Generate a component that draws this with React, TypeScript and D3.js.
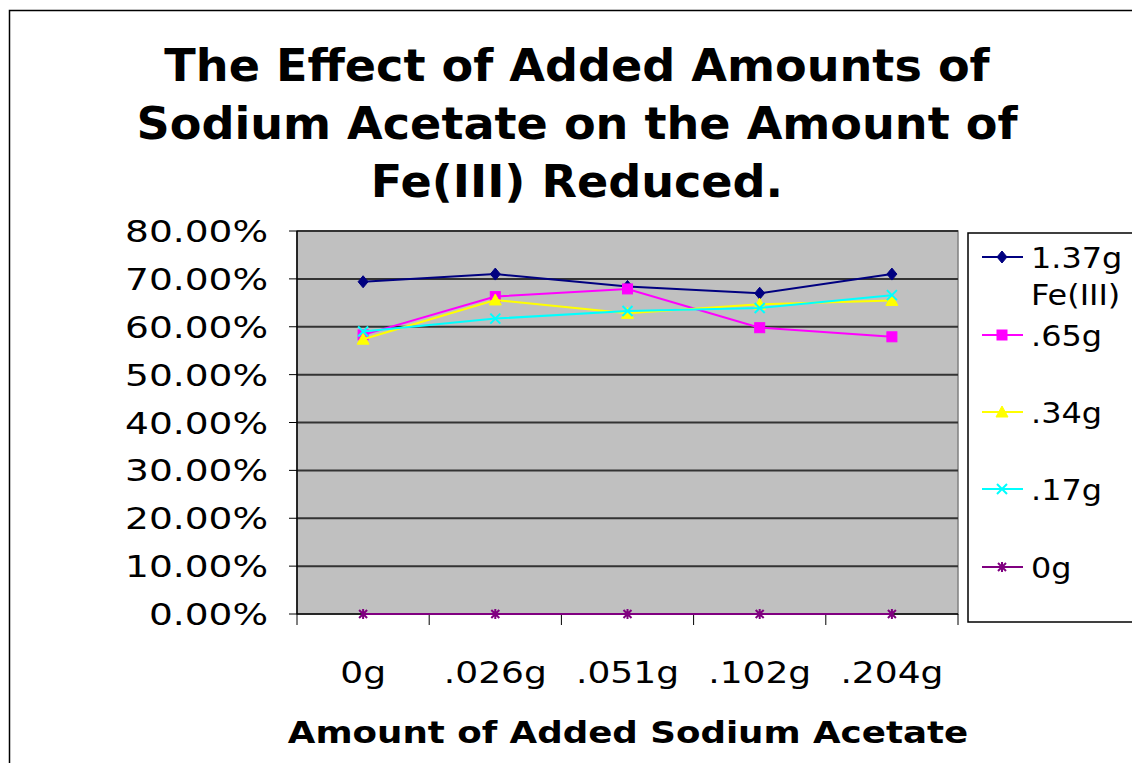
import React from "react";
import * as d3 from "d3";

const categories = ["0g", ".026g", ".051g", ".102g", ".204g"];
const seriesNames = ["1.37g Fe(III)", ".65g", ".34g", ".17g", "0g"];
const s137 = [0.694, 0.710, 0.684, 0.670, 0.710];
const s065 = [0.583, 0.663, 0.679, 0.598, 0.579];
const s034 = [0.574, 0.656, 0.628, 0.647, 0.655];
const s017 = [0.590, 0.617, 0.633, 0.639, 0.666];
const s000 = [0, 0, 0, 0, 0];
const yTicks = [0, 0.1, 0.2, 0.3, 0.4, 0.5, 0.6, 0.7, 0.8];
const titleLines = ["The Effect of Added Amounts of", "Sodium Acetate on the Amount of", "Fe(III) Reduced."];
const xTitle = "Amount of Added Sodium Acetate";

const colors = ["#000080", "#FF00FF", "#FFFF00", "#00FFFF", "#800080"];
const markers = ["diamond", "square", "triangle", "x", "star"];
const seriesData = [s137, s065, s034, s017, s000];

const FONT = "'DejaVu Sans', Verdana, sans-serif";

function Marker({ kind, x, y, color }: { kind: string; x: number; y: number; color: string }) {
  if (kind === "diamond") {
    return <path d={`M${x},${y - 6}L${x + 5},${y}L${x},${y + 6}L${x - 5},${y}Z`} fill={color} stroke={color} strokeWidth={1} />;
  }
  if (kind === "square") {
    return <rect x={x - 5} y={y - 5} width={10} height={10} fill={color} stroke={color} />;
  }
  if (kind === "triangle") {
    return <path d={`M${x},${y - 6}L${x + 6},${y + 5}L${x - 6},${y + 5}Z`} fill={color} stroke={color} />;
  }
  if (kind === "x") {
    return <path d={`M${x - 5},${y - 5}L${x + 5},${y + 5}M${x - 5},${y + 5}L${x + 5},${y - 5}`} stroke={color} strokeWidth={2} />;
  }
  return <path d={`M${x - 4},${y - 4}L${x + 4},${y + 4}M${x - 4},${y + 4}L${x + 4},${y - 4}M${x},${y - 5}L${x},${y + 5}`} stroke={color} strokeWidth={2} />;
}

function SText({ x, y, sx, anchor, size, weight, children }: any) {
  return (
    <text transform={`translate(${x},${y}) scale(${sx},1)`} textAnchor={anchor} fontSize={size} fontWeight={weight} fontFamily={FONT} fill="#000">
      {children}
    </text>
  );
}

export default function App() {
  const W = 1132, H = 763;
  const left = 297, right = 958, top = 231, bottom = 614;
  const x = d3.scaleBand<string>().domain(categories).range([left, right]);
  const y = d3.scaleLinear().domain([0, 0.8]).range([bottom, top]);
  const line = d3.line<number>().x((_, i) => (x(categories[i]) as number) + x.bandwidth() / 2).y((d) => y(d));
  const fmt = d3.format(".2%");
  const legendY = [257, 335, 412, 489, 567];
  const tickXs = categories.map((c) => x(c) as number).concat([right]);

  return (
    <svg width={W} height={H} style={{ position: "absolute", left: 0, top: 0 }}>
      <rect x={0} y={0} width={W} height={H} fill="#fff" />
      <rect x={9.5} y={10.5} width={W + 20} height={H + 20} fill="#fff" stroke="#000" strokeWidth={1.5} />
      {titleLines.map((t, i) => (
        <SText key={i} x={577} y={81 + i * 58} sx={1.025} anchor="middle" size={45} weight="bold">{t}</SText>
      ))}
      <rect x={left} y={top} width={right - left} height={bottom - top} fill="#C0C0C0" stroke="#808080" strokeWidth={1.5} />
      {yTicks.map((t) => (
        <g key={t}>
          {t > 0 && <line x1={left} x2={right} y1={y(t)} y2={y(t)} stroke="#333" strokeWidth={2} />}
          <line x1={left - 8} x2={left} y1={y(t)} y2={y(t)} stroke="#000" strokeWidth={1} />
          <SText x={268} y={y(t) + 11} sx={1.25} anchor="end" size={30} weight="normal">{fmt(t)}</SText>
        </g>
      ))}
      <line x1={left} x2={left} y1={top} y2={bottom} stroke="#000" strokeWidth={1.5} />
      <line x1={left} x2={right} y1={bottom} y2={bottom} stroke="#000" strokeWidth={1.5} />
      {tickXs.map((tx, i) => (
        <line key={i} x1={tx} x2={tx} y1={bottom} y2={bottom + 11} stroke="#000" strokeWidth={1} />
      ))}
      {categories.map((c) => (
        <SText key={c} x={(x(c) as number) + x.bandwidth() / 2} y={683} sx={1.2} anchor="middle" size={30} weight="normal">{c}</SText>
      ))}
      <SText x={628} y={743} sx={1.15} anchor="middle" size={31} weight="bold">{xTitle}</SText>
      {seriesData.map((s, si) => (
        <g key={si}>
          <path d={line(s) as string} fill="none" stroke={colors[si]} strokeWidth={2} />
          {s.map((v, i) => (
            <Marker key={i} kind={markers[si]} x={(x(categories[i]) as number) + x.bandwidth() / 2} y={y(v)} color={colors[si]} />
          ))}
        </g>
      ))}
      <rect x={968} y={233} width={200} height={389} fill="#fff" stroke="#000" strokeWidth={1.5} />
      {seriesNames.map((n, i) => {
        const ly = legendY[i];
        const parts = i === 0 ? ["1.37g", "Fe(III)"] : [n];
        return (
          <g key={n}>
            <line x1={982} x2={1023} y1={ly} y2={ly} stroke={colors[i]} strokeWidth={2} />
            <Marker kind={markers[i]} x={1002} y={ly} color={colors[i]} />
            {parts.map((p, j) => (
              <SText key={j} x={1031} y={ly + 11 + j * 37} sx={1.1} anchor="start" size={29} weight="normal">{p}</SText>
            ))}
          </g>
        );
      })}
    </svg>
  );
}
